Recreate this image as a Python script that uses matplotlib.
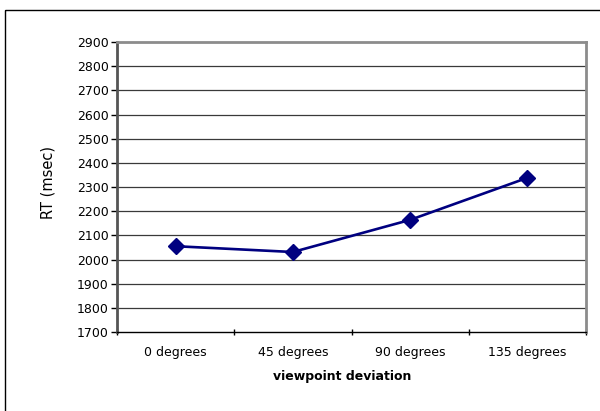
import matplotlib.pyplot as plt
from matplotlib.patches import Rectangle

# reaction time by viewpoint deviation
categories = ['0 degrees', '45 degrees', '90 degrees', '135 degrees']
rt_msec = [2055, 2031, 2164, 2338]
y_ticks = list(range(1700, 3000, 100))

W, H = 600, 411
fig = plt.figure(figsize=(W / 100, H / 100), dpi=100)
plt.rcParams['font.family'] = 'DejaVu Sans'

# outer chart border (right and bottom fall off the canvas)
fig.patches.append(Rectangle((5 / W, 1 - 10 / H), 2, -2, transform=fig.transFigure,
                             fill=False, edgecolor='black', linewidth=1.0))

left, right, top, bottom = 117, 586, 42, 332
ax = fig.add_axes([left / W, 1 - bottom / H, (right - left) / W, (bottom - top) / H])

x = range(len(categories))
ax.plot(x, rt_msec, color='#000080', linewidth=1.9, marker='D', markersize=8.5,
        markerfacecolor='#000080', markeredgecolor='#000080', zorder=3)

ax.set_xlim(-0.5, len(categories) - 0.5)
ax.set_ylim(1700, 2900)
ax.set_yticks(y_ticks)
ax.set_yticklabels([str(v) for v in y_ticks], fontsize=9)
ax.set_xticks(list(x))
ax.set_xticklabels(categories, fontsize=9)
ax.tick_params(axis='x', length=0, pad=10)
ax.set_xticks([i + 0.5 for i in range(-1, len(categories))], minor=True)
ax.tick_params(axis='x', which='minor', length=4, direction='inout', width=1.0)
ax.tick_params(axis='y', length=4, width=1.0, pad=2)

for v in y_ticks[1:-1]:
    ax.axhline(v, color='#3a3a3a', linewidth=0.9, zorder=1)

ax.spines['top'].set_color('#8c8c8c')
ax.spines['top'].set_linewidth(2.0)
ax.spines['right'].set_color('#8c8c8c')
ax.spines['right'].set_linewidth(2.0)
ax.spines['left'].set_color('#555555')
ax.spines['left'].set_linewidth(2.0)
ax.spines['bottom'].set_color('black')
ax.spines['bottom'].set_linewidth(1.0)

fig.text(342 / W, 1 - 376 / H, 'viewpoint deviation', ha='center', va='center',
         fontsize=9, fontweight='bold')
fig.text(48 / W, 1 - 182 / H, 'RT (msec)', ha='center', va='center',
         fontsize=10.5, rotation=90)

fig.savefig('out.png', dpi=100)
